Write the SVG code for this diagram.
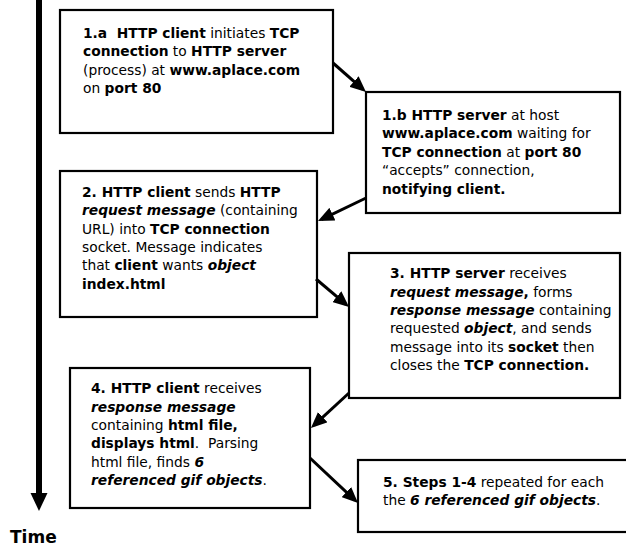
<svg xmlns="http://www.w3.org/2000/svg" width="626" height="548" viewBox="0 0 626 548">
<defs>
<marker id="ah" markerUnits="userSpaceOnUse" markerWidth="16" markerHeight="14" refX="12" refY="7" orient="auto" viewBox="0 0 16 14">
<path d="M0,0 L16,7 L0,14 z" fill="#000"/>
</marker>
</defs>
<style>
.box{fill:#fff;stroke:#000;stroke-width:2.2}
text{font-family:"DejaVu Sans",Verdana,sans-serif;font-size:13.8px;fill:#000;white-space:pre}
.b{font-weight:bold}
.bi{font-weight:bold;font-style:italic}
.con{fill:none;stroke:#000;stroke-width:3;marker-end:url(#ah)}
</style>
<rect width="626" height="548" fill="#fff"/>
<g id="timeline">
<line x1="39" y1="0" x2="39" y2="495" stroke="#000" stroke-width="6"/>
<polygon points="30.5,493 47.5,493 39,511" fill="#000"/>
<text x="10" y="543" class="b" style="font-size:17px">Time</text>
</g>
<g id="n1a">
<rect class="box" x="60" y="10" width="273" height="123"/>
<text x="83" y="38"><tspan class="b">1.a  HTTP client</tspan> initiates <tspan class="b">TCP</tspan></text>
<text x="83" y="56.4"><tspan class="b">connection</tspan> to <tspan class="b">HTTP server</tspan></text>
<text x="83" y="74.8">(process) at <tspan class="b">www.aplace.com</tspan></text>
<text x="83" y="93.2">on <tspan class="b">port 80</tspan></text>
</g>
<g id="n1b">
<rect class="box" x="366" y="92" width="254" height="121"/>
<text x="382" y="120"><tspan class="b">1.b HTTP server</tspan> at host</text>
<text x="382" y="138.4"><tspan class="b">www.aplace.com</tspan> waiting for</text>
<text x="382" y="156.8"><tspan class="b">TCP connection</tspan> at <tspan class="b">port 80</tspan></text>
<text x="382" y="175.2">“accepts” connection,</text>
<text x="382" y="193.6"><tspan class="b">notifying client.</tspan></text>
</g>
<g id="n2">
<rect class="box" x="60" y="171" width="257" height="146"/>
<text x="82" y="197"><tspan class="b">2. HTTP client</tspan> sends <tspan class="b">HTTP</tspan></text>
<text x="82" y="215.3"><tspan class="bi">request message</tspan> (containing</text>
<text x="82" y="233.6">URL) into <tspan class="b">TCP connection</tspan></text>
<text x="82" y="251.9">socket. Message indicates</text>
<text x="82" y="270.2">that <tspan class="b">client</tspan> wants <tspan class="bi">object</tspan></text>
<text x="82" y="288.5"><tspan class="b">index.html</tspan></text>
</g>
<g id="n3">
<rect class="box" x="349" y="253" width="271" height="145"/>
<text x="390" y="278.3"><tspan class="b">3. HTTP server</tspan> receives</text>
<text x="390" y="296.6"><tspan class="bi">request message</tspan><tspan class="b">,</tspan> forms</text>
<text x="390" y="314.9"><tspan class="bi">response message</tspan> containing</text>
<text x="390" y="333.2">requested <tspan class="bi">object</tspan>, and sends</text>
<text x="390" y="351.5">message into its <tspan class="b">socket</tspan> then</text>
<text x="390" y="369.8">closes the <tspan class="b">TCP connection.</tspan></text>
</g>
<g id="n4">
<rect class="box" x="70" y="368" width="240" height="140"/>
<text x="91" y="393.3"><tspan class="b">4. HTTP client</tspan> receives</text>
<text x="91" y="411.6"><tspan class="bi">response message</tspan></text>
<text x="91" y="429.9">containing <tspan class="b">html file,</tspan></text>
<text x="91" y="448.2"><tspan class="b">displays html</tspan>.  Parsing</text>
<text x="91" y="466.5">html file, finds <tspan class="bi">6</tspan></text>
<text x="91" y="484.8"><tspan class="bi">referenced gif objects</tspan>.</text>
</g>
<g id="n5">
<rect class="box" x="358" y="460" width="272" height="72"/>
<text x="383" y="486.5"><tspan class="b">5. Steps 1-4</tspan> repeated for each</text>
<text x="383" y="504.5">the <tspan class="bi">6 referenced gif objects</tspan>.</text>
</g>
<g id="connectors">
<line class="con" x1="333" y1="63" x2="363" y2="89.4"/>
<line class="con" x1="366" y1="198" x2="321.6" y2="219.3"/>
<line class="con" x1="316" y1="279" x2="346" y2="304.4"/>
<line class="con" x1="349" y1="393" x2="313.9" y2="425.3"/>
<line class="con" x1="310" y1="458" x2="355.1" y2="500.3"/>
</g>
</svg>
